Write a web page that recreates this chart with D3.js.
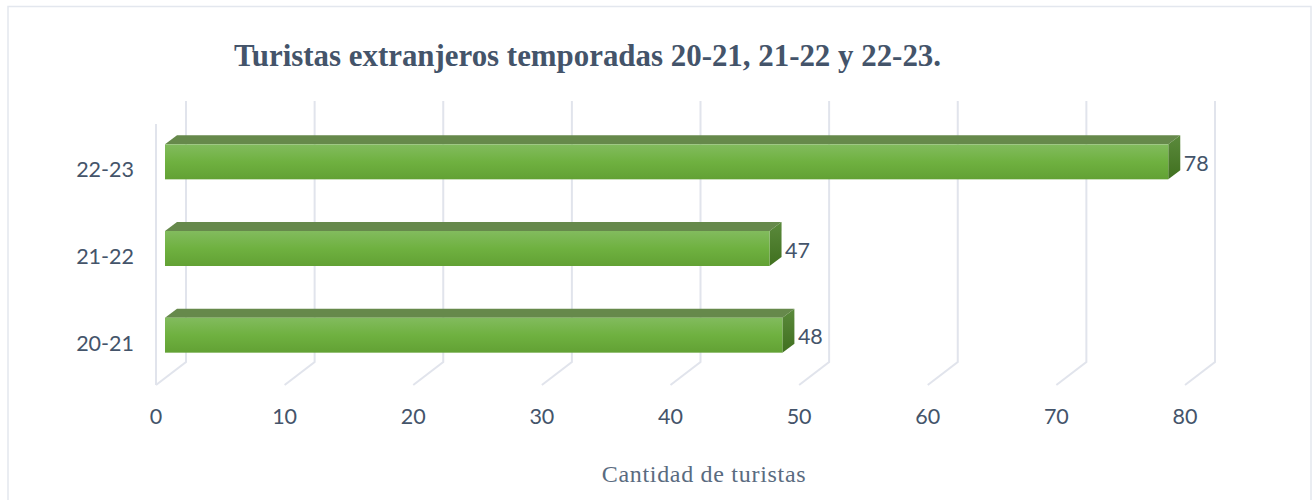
<!DOCTYPE html>
<html><head><meta charset="utf-8">
<script src="https://cdn.jsdelivr.net/npm/d3@7/dist/d3.min.js"></script>
<style>html,body{margin:0;padding:0;background:#fff}svg{display:block}</style>
</head><body><svg id="c" width="1312" height="500"></svg>
<script>
const categories = ["22-23", "21-22", "20-21"];
const values = [78, 47, 48];
const xTicks = [0, 10, 20, 30, 40, 50, 60, 70, 80];
const chartTitle = "Turistas extranjeros temporadas 20-21, 21-22 y 22-23.";
const xTitle = "Cantidad de turistas";

const svg = d3.select("#c");
const ink = "#44546a", grid = "#e1e4ec";
const sans = "Lato, Carlito, sans-serif", serif = "'Liberation Serif', serif";

const x = d3.scaleLinear().domain([0, 80]).range([156, 1185]);
const y = d3.scaleBand().domain(categories).range([118.5, 378.5]).paddingInner(0.6).paddingOuter(0.3);
const wallTop = 124, wallBottom = 385, dx = 30, dy = 23;   // wall depth
const gap = 9, bw = 35, ddx = 12, ddy = 9;         // bar offset and depth

const defs = svg.append("defs");
const g1 = defs.append("linearGradient").attr("id", "front").attr("x1", 0).attr("y1", 0).attr("x2", 0).attr("y2", 1);
[[0, "#82bb5e"], [0.5, "#6fb140"], [1, "#62a134"]].forEach(s => g1.append("stop").attr("offset", s[0]).attr("stop-color", s[1]));
const g2 = defs.append("linearGradient").attr("id", "side").attr("x1", 0).attr("y1", 0).attr("x2", 0).attr("y2", 1);
[[0, "#5b8a3c"], [1, "#40701f"]].forEach(s => g2.append("stop").attr("offset", s[0]).attr("stop-color", s[1]));

// chart frame
svg.append("rect").attr("x", 8).attr("y", 6.5).attr("width", 1303).attr("height", 500)
  .attr("fill", "#fff").attr("stroke", "#e3e7ee").attr("stroke-width", 1.5);

// title
svg.append("text").attr("x", 587.5).attr("y", 66).attr("text-anchor", "middle")
  .attr("font-family", serif).attr("font-weight", 700).attr("font-size", 30.9).attr("fill", ink)
  .text(chartTitle);

// walls and floor
const walls = svg.append("g").attr("fill", "none").attr("stroke", grid).attr("stroke-width", 2);
walls.selectAll("path.back").data(xTicks).join("path").attr("class", "back")
  .attr("d", d => `M${x(d) + dx},${wallTop - dy}V${wallBottom - dy}L${x(d)},${wallBottom}`);
walls.append("path").attr("d", `M${x(0)},${wallTop}V${wallBottom}`);

// x tick labels
svg.append("g").selectAll("text").data(xTicks).join("text")
  .attr("x", d => x(d)).attr("y", 424).attr("text-anchor", "middle")
  .attr("font-family", sans).attr("font-size", 21.5).attr("fill", ink).text(d => d);

// category labels
svg.append("g").selectAll("text").data(categories).join("text")
  .attr("x", 134).attr("y", d => y(d) + y.bandwidth() / 2 + 15.5).attr("text-anchor", "end")
  .attr("font-family", sans).attr("font-size", 21.5).attr("fill", ink).text(d => d);

// bars
const rows = categories.map((c, i) => ({c, v: values[i]}));
const bars = svg.append("g").selectAll("g").data(rows).join("g")
  .attr("transform", d => `translate(0,${y(d.c) + y.bandwidth() / 2 - bw / 2})`);
const x0 = x(0) + gap;
bars.append("path").attr("fill", "#66894b")
  .attr("d", d => `M${x0},0L${x0 + ddx},${-ddy}H${x(d.v) + gap + ddx}L${x(d.v) + gap},0Z`);
bars.append("path").attr("fill", "url(#side)")
  .attr("d", d => { const e = x(d.v) + gap; return `M${e},0L${e + ddx},${-ddy}V${bw - ddy}L${e},${bw}Z`; });
bars.append("rect").attr("x", x0).attr("y", 0).attr("height", bw)
  .attr("width", d => x(d.v) - x(0)).attr("fill", "url(#front)");
bars.append("text").attr("x", d => x(d.v) + gap + 15.5).attr("y", 26.5)
  .attr("font-family", sans).attr("font-size", 21.5).attr("fill", ink).text(d => d.v);

// axis title
svg.append("text").attr("x", 704).attr("y", 482).attr("text-anchor", "middle")
  .attr("font-family", serif).attr("font-size", 24).attr("letter-spacing", 0.7).attr("fill", "#5a6b80").text(xTitle);
</script></body></html>
